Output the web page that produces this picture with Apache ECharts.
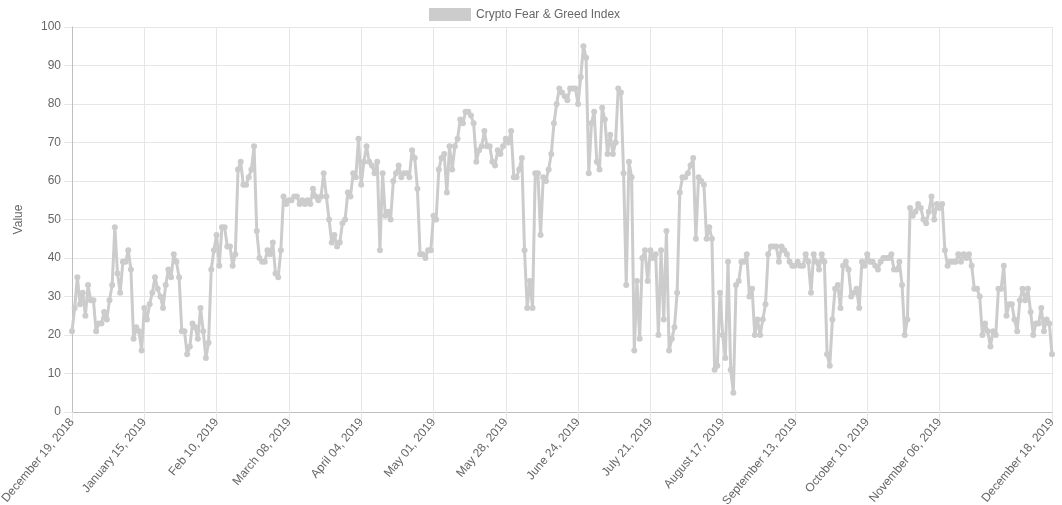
<!DOCTYPE html>
<html>
<head>
<meta charset="utf-8">
<script src="https://cdn.jsdelivr.net/npm/echarts@6/dist/echarts.min.js"></script>
<style>
html,body{margin:0;padding:0;background:#fff;}
#chart{width:1062px;height:505px;}
</style>
</head>
<body>
<div id="chart"></div>
<script>
// Series values (one point per data row, Dec 19 2018 .. Dec 18 2019)
const fearGreedValues = [
21,27,35,28,31,25,33,29,29,21,23,23,26,24,29,33,48,36,31,39,39,42,37,19,22,21,16,27,24,28,
31,35,32,30,27,33,37,35,41,39,35,21,21,15,17,23,22,19,27,21,14,18,37,42,46,38,48,48,43,43,
38,41,63,65,59,59,61,63,69,47,40,39,39,42,41,44,36,35,42,56,54,55,55,56,56,54,55,54,55,54,
58,56,55,56,62,56,50,44,46,43,44,49,50,57,56,62,61,71,59,65,69,65,64,62,65,42,62,51,52,50,
60,62,64,61,62,62,61,68,66,58,41,41,40,42,42,51,50,63,66,67,57,69,63,69,71,76,75,78,78,77,
75,65,68,69,73,69,69,65,64,68,67,69,71,70,73,61,61,63,66,42,27,34,27,62,62,46,61,60,63,67,
75,80,84,83,82,81,84,84,84,80,87,95,92,62,75,78,65,63,79,76,67,72,67,70,84,83,62,33,65,61,
16,34,19,40,42,34,42,40,41,20,42,24,47,16,19,22,31,57,61,61,62,64,66,45,61,60,59,45,48,45,
11,12,31,20,14,39,11,5,33,34,39,39,41,30,32,20,24,20,24,28,41,43,43,43,39,43,42,41,39,38,
38,39,38,38,41,39,31,41,39,37,41,39,15,12,24,32,33,27,38,39,37,30,31,32,27,39,38,41,39,39,
38,37,39,40,40,40,41,37,37,39,33,20,24,53,51,52,54,53,50,49,52,56,50,54,53,54,42,38,39,39,
39,41,39,41,40,41,38,32,32,30,20,23,21,17,21,20,32,32,38,25,28,28,24,21,29,32,29,32,26,20,
23,23,27,21,24,23,15
];

// Tick labels shown on the x axis, and the rows they sit on
const tickLabels = [
  'December 19, 2018','January 15, 2019','Feb 10, 2019','March 08, 2019','April 04, 2019',
  'May 01, 2019','May 28, 2019','June 24, 2019','July 21, 2019','August 17, 2019',
  'September 13, 2019','October 10, 2019','November 06, 2019','December 18, 2019'
];
const tickRows = [0,27,54,81,108,135,162,189,216,243,270,297,324,366];

// Category labels (one per row)
const categories = fearGreedValues.map(function (v, i) {
  const k = tickRows.indexOf(i);
  return k >= 0 ? tickLabels[k] : 'row ' + i;
});

const seriesName = 'Crypto Fear & Greed Index';
const yTitle = 'Value';

const isTick = function (index) { return tickRows.indexOf(index) >= 0; };
const font = "'Liberation Sans', Arial, Helvetica, sans-serif";

const chart = echarts.init(document.getElementById('chart'));
chart.setOption({
  animation: false,
  backgroundColor: '#ffffff',
  textStyle: { fontFamily: font },
  legend: {
    top: 3,
    left: 424,
    icon: 'rect',
    itemWidth: 42,
    itemHeight: 13,
    itemGap: 10,
    textStyle: { color: '#666666', fontSize: 12, fontFamily: font },
    data: [seriesName]
  },
  grid: { left: 72, right: 10, top: 27, bottom: 93, containLabel: false, outerBoundsMode: 'none' },
  xAxis: {
    type: 'category',
    data: categories,
    boundaryGap: false,
    axisLine: { show: true, lineStyle: { color: '#bfbfbf', width: 1 } },
    axisTick: { show: true, interval: isTick, length: 8, lineStyle: { color: '#e6e6e6' } },
    splitLine: { show: true, interval: isTick, lineStyle: { color: '#e6e6e6', width: 1 } },
    axisLabel: {
      interval: isTick,
      rotate: 50,
      margin: 8,
      color: '#666666',
      fontSize: 12,
      fontFamily: font,
      hideOverlap: false,
      formatter: function (value) { return value; }
    }
  },
  yAxis: {
    type: 'value',
    min: 0,
    max: 100,
    interval: 10,
    name: yTitle,
    nameLocation: 'middle',
    nameGap: 47,
    nameTextStyle: { color: '#666666', fontSize: 12, fontFamily: font },
    axisLine: { show: true, lineStyle: { color: '#bfbfbf', width: 1 } },
    axisTick: { show: true, length: 8, lineStyle: { color: '#e6e6e6' } },
    splitLine: { show: true, lineStyle: { color: '#e6e6e6', width: 1 } },
    axisLabel: { color: '#666666', fontSize: 12, fontFamily: font, margin: 11 }
  },
  series: [{
    name: seriesName,
    type: 'line',
    data: fearGreedValues,
    symbol: 'circle',
    symbolSize: 6,
    showAllSymbol: true,
    lineStyle: { color: '#cccccc', width: 3 },
    itemStyle: { color: '#cccccc' },
    emphasis: { disabled: true }
  }]
});
</script>
</body>
</html>
